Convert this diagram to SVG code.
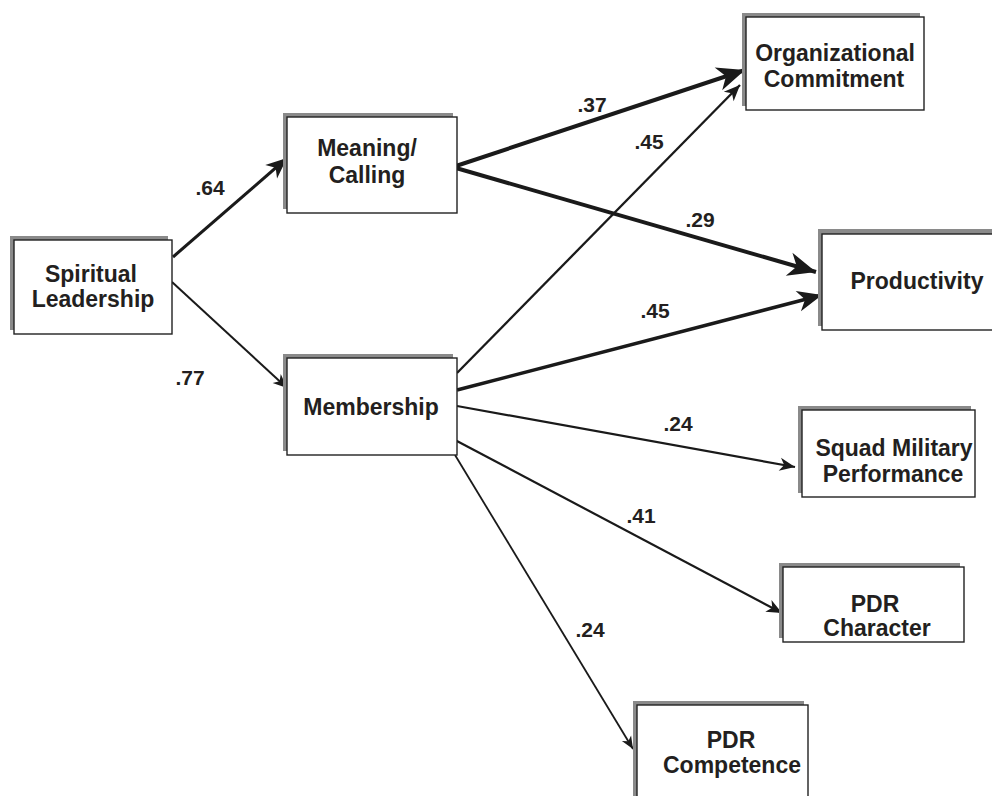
<svg xmlns="http://www.w3.org/2000/svg" width="992" height="796" viewBox="0 0 992 796">
<style>
.sh{fill:#8a8a8a}
.bx{fill:#fff;stroke:#222;stroke-width:1.4}
.t{font-family:"Liberation Sans",Arial,Helvetica,sans-serif;font-weight:bold;font-size:23px;fill:#231f20;text-anchor:middle}
.l{font-family:"Liberation Sans",Arial,Helvetica,sans-serif;font-weight:bold;font-size:21px;fill:#231f20;text-anchor:middle}
.c{fill:none;stroke:#1a1a1a;stroke-linecap:butt}
</style>
<defs>
<marker id="ah" markerUnits="strokeWidth" viewBox="-8 -4 8 8" refX="0" refY="0" markerWidth="8" markerHeight="8" orient="auto">
<path d="M0,0 L-7,-3 L-5,0 L-7,3 Z" fill="#1a1a1a"/>
</marker>
</defs>
<g id="connectors">
<path class="c" d="M173,257 L287,158" stroke-width="3" marker-end="url(#ah)"/>
<path class="c" d="M172,282 L287,388" stroke-width="2" marker-end="url(#ah)"/>
<path class="c" d="M456,166 L745,70" stroke-width="4" marker-end="url(#ah)"/>
<path class="c" d="M456,168 L816,272" stroke-width="4" marker-end="url(#ah)"/>
<path class="c" d="M457,373 L740,85" stroke-width="2.3" marker-end="url(#ah)"/>
<path class="c" d="M457,390 L822,295" stroke-width="3.5" marker-end="url(#ah)"/>
<path class="c" d="M457,406 L795,467" stroke-width="2.2" marker-end="url(#ah)"/>
<path class="c" d="M455,440 L782,613" stroke-width="2.2" marker-end="url(#ah)"/>
<path class="c" d="M455,455 L633,749" stroke-width="1.8" marker-end="url(#ah)"/>
</g>
<g id="labels">
<text class="l" x="210" y="195">.64</text>
<text class="l" x="190" y="385">.77</text>
<text class="l" x="592" y="112">.37</text>
<text class="l" x="649" y="149">.45</text>
<text class="l" x="700" y="227">.29</text>
<text class="l" x="655" y="318">.45</text>
<text class="l" x="678" y="431">.24</text>
<text class="l" x="641" y="523">.41</text>
<text class="l" x="590" y="637">.24</text>
</g>
<g id="spiritual-leadership">
<rect class="sh" x="10" y="236" width="158" height="94"/>
<rect class="bx" x="14" y="240" width="158" height="94"/>
<text class="t" x="91" y="282">Spiritual</text>
<text class="t" x="93" y="307">Leadership</text>
</g>
<g id="meaning-calling">
<rect class="sh" x="283" y="113" width="170" height="96"/>
<rect class="bx" x="287" y="117" width="170" height="96"/>
<text class="t" x="367" y="156">Meaning/</text>
<text class="t" x="367" y="183">Calling</text>
</g>
<g id="organizational-commitment">
<rect class="sh" x="742" y="13" width="178" height="93"/>
<rect class="bx" x="746" y="17" width="178" height="93"/>
<text class="t" x="835" y="61">Organizational</text>
<text class="t" x="834" y="87">Commitment</text>
</g>
<g id="productivity">
<rect class="sh" x="818" y="229" width="174" height="97"/>
<rect class="bx" x="822" y="234" width="172" height="96"/>
<text class="t" x="917" y="289">Productivity</text>
</g>
<g id="membership">
<rect class="sh" x="283" y="354" width="170" height="97"/>
<rect class="bx" x="287" y="358" width="170" height="97"/>
<text class="t" x="371" y="415">Membership</text>
</g>
<g id="squad-military-performance">
<rect class="sh" x="798" y="406" width="173" height="87"/>
<rect class="bx" x="802" y="410" width="173" height="87"/>
<text class="t" x="894" y="456">Squad Military</text>
<text class="t" x="893" y="482">Performance</text>
</g>
<g id="pdr-character">
<rect class="sh" x="779" y="563" width="181" height="75"/>
<rect class="bx" x="783" y="567" width="181" height="75"/>
<text class="t" x="875" y="612">PDR</text>
<text class="t" x="877" y="636">Character</text>
</g>
<g id="pdr-competence">
<rect class="sh" x="633" y="701" width="171" height="100"/>
<rect class="bx" x="637" y="705" width="171" height="100"/>
<text class="t" x="731" y="748">PDR</text>
<text class="t" x="732" y="773">Competence</text>
</g>
</svg>
